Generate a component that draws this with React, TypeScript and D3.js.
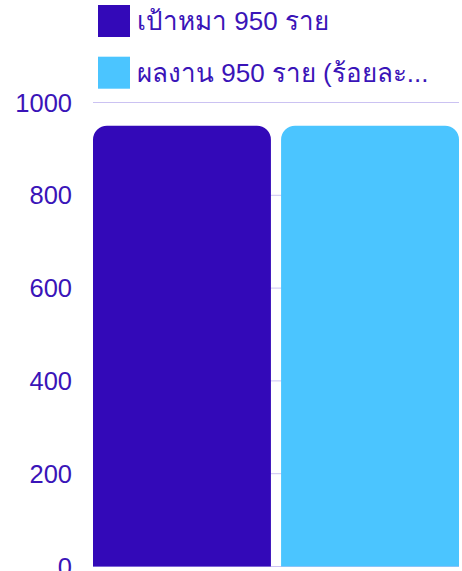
import React from "react";
import * as d3 from "d3";

const series = ["target", "result"];
const values = [950, 950];
const legendLabels = ["เป้าหมา 950 ราย", "ผลงาน 950 ราย (ร้อยละ..."];
const colors = ["#3309b8", "#4bc5ff"];
const yTicks = [0, 200, 400, 600, 800, 1000];

const width = 462;
const height = 571;
const margin = { top: 102.5, right: 3, bottom: 4.5, left: 93 };
const textColor = "#3a14b8";

function topRounded(x: number, y: number, w: number, h: number, r: number) {
	const p = d3.path();
	p.moveTo(x, y + h);
	p.lineTo(x, y + r);
	p.arcTo(x, y, x + r, y, r);
	p.lineTo(x + w - r, y);
	p.arcTo(x + w, y, x + w, y + r, r);
	p.lineTo(x + w, y + h);
	p.closePath();
	return p.toString();
}

export default function App() {
	const x = d3
		.scaleBand<string>()
		.domain(series)
		.range([margin.left, width - margin.right])
		.paddingInner(0.054)
		.paddingOuter(0);
	const y = d3
		.scaleLinear()
		.domain([0, 1000])
		.range([height - margin.bottom, margin.top]);

	return (
		<svg
			width={width}
			height={height}
			style={{ position: "absolute", left: 0, top: 0, fontFamily: "'Liberation Sans', Arial, sans-serif" }}
		>
			{/* gridlines */}
			{yTicks.map(t => (
				<line
					key={t}
					x1={margin.left}
					x2={width - margin.right}
					y1={y(t)}
					y2={y(t)}
					stroke="#cbc2f2"
					strokeWidth={1}
				/>
			))}
			{/* y labels */}
			{yTicks.map(t => (
				<text
					key={"l" + t}
					x={72}
					y={y(t)}
					textAnchor="end"
					dominantBaseline="central"
					fontSize={25.5}
					fill={textColor}
				>
					{t}
				</text>
			))}
			{/* bars */}
			{series.map((s, i) => (
				<path
					key={s}
					d={topRounded(x(s)!, y(values[i]), x.bandwidth(), y(0) - y(values[i]), 14)}
					fill={colors[i]}
				/>
			))}
			{/* legend */}
			{legendLabels.map((label, i) => (
				<g key={label} transform={`translate(98,${5 + i * 51.7})`}>
					<rect width={32} height={32} fill={colors[i]} />
					<text
						x={39}
						y={16}
						dominantBaseline="central"
						fontSize={26}
						fill={textColor}
					>
						{label}
					</text>
				</g>
			))}
		</svg>
	);
}
